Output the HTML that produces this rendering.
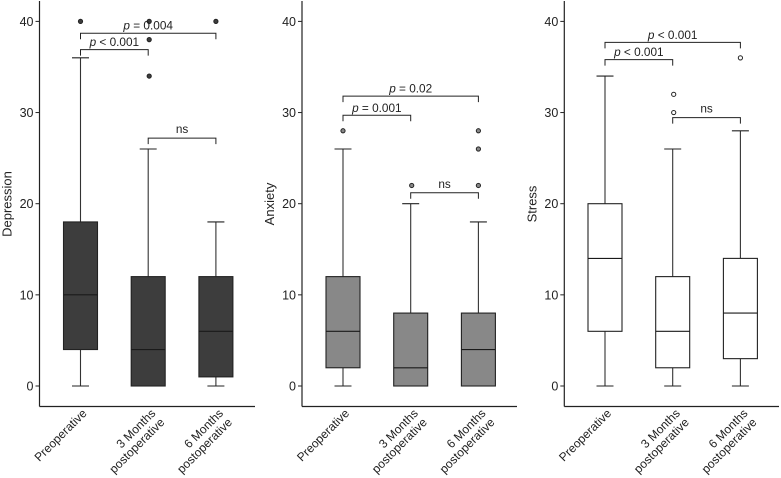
<!DOCTYPE html>
<html lang="en">
<head>
<meta charset="utf-8">
<title>Depression, Anxiety and Stress box plots</title>
<style>
html,body{margin:0;padding:0;background:#fff;width:781px;height:478px;overflow:hidden}
svg{display:block}
text{font-family:"Liberation Sans",Arial,sans-serif;fill:#222}
</style>
</head>
<body>
<svg id="chart" width="781" height="478" viewBox="0 0 781 478" xmlns="http://www.w3.org/2000/svg"></svg>
<script>
const yTicks = [0, 10, 20, 30, 40];
const categoryLines = [["Preoperative"], ["3 Months", "postoperative"], ["6 Months", "postoperative"]];
const panelTitles = ["Depression", "Anxiety", "Stress"];

const depressionWhiskerLow = [0, 0, 0];
const depressionQ1 = [4, 0, 1];
const depressionMedian = [10, 4, 6];
const depressionQ3 = [18, 12, 12];
const depressionWhiskerHigh = [36, 26, 18];
const depressionOutliers = [[40], [34, 38, 40], [40]];
const depressionBrackets = [["p", " < 0.001", 0, 1, 36.9], ["p", " = 0.004", 0, 2, 38.7], ["", "ns", 1, 2, 27.2]];

const anxietyWhiskerLow = [0, 0, 0];
const anxietyQ1 = [2, 0, 0];
const anxietyMedian = [6, 2, 4];
const anxietyQ3 = [12, 8, 8];
const anxietyWhiskerHigh = [26, 20, 18];
const anxietyOutliers = [[28], [22], [22, 26, 28]];
const anxietyBrackets = [["p", " = 0.001", 0, 1, 29.7], ["p", " = 0.02", 0, 2, 31.8], ["", "ns", 1, 2, 21.2]];

const stressWhiskerLow = [0, 0, 0];
const stressQ1 = [6, 2, 3];
const stressMedian = [14, 6, 8];
const stressQ3 = [20, 12, 14];
const stressWhiskerHigh = [34, 26, 28];
const stressOutliers = [[], [30, 32], [36]];
const stressBrackets = [["p", " < 0.001", 0, 1, 35.8], ["p", " < 0.001", 0, 2, 37.7], ["", "ns", 1, 2, 29.45]];

const svg = document.getElementById('chart');
const NS = 'http://www.w3.org/2000/svg';
const yScale = v => 386 - v * 9.115;

function make(tag, attrs, parent) {
  const node = document.createElementNS(NS, tag);
  for (const k in attrs) node.setAttribute(k, attrs[k]);
  parent.appendChild(node);
  return node;
}
function line(parent, x1, y1, x2, y2, stroke, width) {
  return make('line', {x1: x1, y1: y1, x2: x2, y2: y2, stroke: stroke, 'stroke-width': width}, parent);
}

function drawPanel(cfg) {
  const g = make('g', {}, svg);
  
  
  const xScale = i => cfg.x0 + i * 67.7;

  const yAxis = line(g, cfg.axisX, 1, cfg.axisX, 406.5, '#222', 1.2);
  
  
  const xAxis = line(g, cfg.axisX, 406.5, cfg.axisEnd, 406.5, '#222', 1.2);
  
  

  yTicks.forEach(t => {
    const tick = line(g, cfg.axisX - 4, yScale(t), cfg.axisX, yScale(t), '#222', 1);
    
    
    const label = make('text', {x: cfg.axisX - 6, y: yScale(t) + 4.5, 'text-anchor': 'end', 'font-size': 12.5}, g);
    label.textContent = t;
    
    
  });

  const title = make('text', {transform: 'translate(' + (cfg.axisX - 28) + ',204) rotate(-90)', 'text-anchor': 'middle', 'font-size': 13}, g);
  title.textContent = cfg.title;
  
  

  cfg.median.forEach((m, i) => {
    const cx = xScale(i);
    const box = make('g', {}, g);
    
    
    line(box, cx, yScale(cfg.low[i]), cx, yScale(cfg.high[i]), '#333', 1.1);
    line(box, cx - 8.5, yScale(cfg.low[i]), cx + 8.5, yScale(cfg.low[i]), '#222', 1.1);
    line(box, cx - 8.5, yScale(cfg.high[i]), cx + 8.5, yScale(cfg.high[i]), '#222', 1.1);
    make('rect', {x: cx - 17, y: yScale(cfg.q3[i]), width: 34, height: yScale(cfg.q1[i]) - yScale(cfg.q3[i]), fill: cfg.fill, stroke: '#222', 'stroke-width': 1.1}, box);
    line(box, cx - 17, yScale(m), cx + 17, yScale(m), '#1a1a1a', 1.1);
    cfg.outliers[i].forEach(o => {
      const dot = make('circle', {cx: cx + (i === 1 ? 1 : 0), cy: yScale(o), r: 2.1, fill: cfg.fill, stroke: '#222', 'stroke-width': 1}, box);
      
      
    });

    const lines = categoryLines[i];
    lines.forEach((txt, n) => {
      const lx = cx + 7 + (lines.length - 1 ? 1 : 0) + n * 9;
      const ly = 414 + n * 9;
      const lab = make('text', {transform: 'translate(' + lx + ',' + ly + ') rotate(-45)', 'text-anchor': 'end', 'font-size': 12}, g);
      lab.textContent = txt;
      
      
    });
  });

  cfg.brackets.forEach(b => {
    const x1 = xScale(b[2]);
    const x2 = xScale(b[3]);
    const y = yScale(b[4]);
    const bracket = make('path', {d: 'M' + x1 + ' ' + (y + 6) + 'V' + y + 'H' + x2 + 'V' + (y + 6), fill: 'none', stroke: '#222', 'stroke-width': 1}, g);
    
    
    const label = make('text', {x: (x1 + x2) / 2, y: y - (b[0] ? 3.5 : 5), 'text-anchor': 'middle', 'font-size': 11.8}, g);
    
    
    if (b[0]) {
      const italic = make('tspan', {'font-style': 'italic'}, label);
      italic.textContent = b[0];
    }
    const rest = make('tspan', {}, label);
    rest.textContent = b[1];
  });
}

drawPanel({name: 'depression', title: panelTitles[0], axisX: 39.5, axisEnd: 255, x0: 80.5, fill: '#3d3d3d',
  low: depressionWhiskerLow, q1: depressionQ1, median: depressionMedian, q3: depressionQ3, high: depressionWhiskerHigh,
  outliers: depressionOutliers, brackets: depressionBrackets});
drawPanel({name: 'anxiety', title: panelTitles[1], axisX: 302, axisEnd: 517, x0: 343, fill: '#888888',
  low: anxietyWhiskerLow, q1: anxietyQ1, median: anxietyMedian, q3: anxietyQ3, high: anxietyWhiskerHigh,
  outliers: anxietyOutliers, brackets: anxietyBrackets});
drawPanel({name: 'stress', title: panelTitles[2], axisX: 564.3, axisEnd: 779, x0: 605, fill: '#ffffff',
  low: stressWhiskerLow, q1: stressQ1, median: stressMedian, q3: stressQ3, high: stressWhiskerHigh,
  outliers: stressOutliers, brackets: stressBrackets});
</script>
</body>
</html>
